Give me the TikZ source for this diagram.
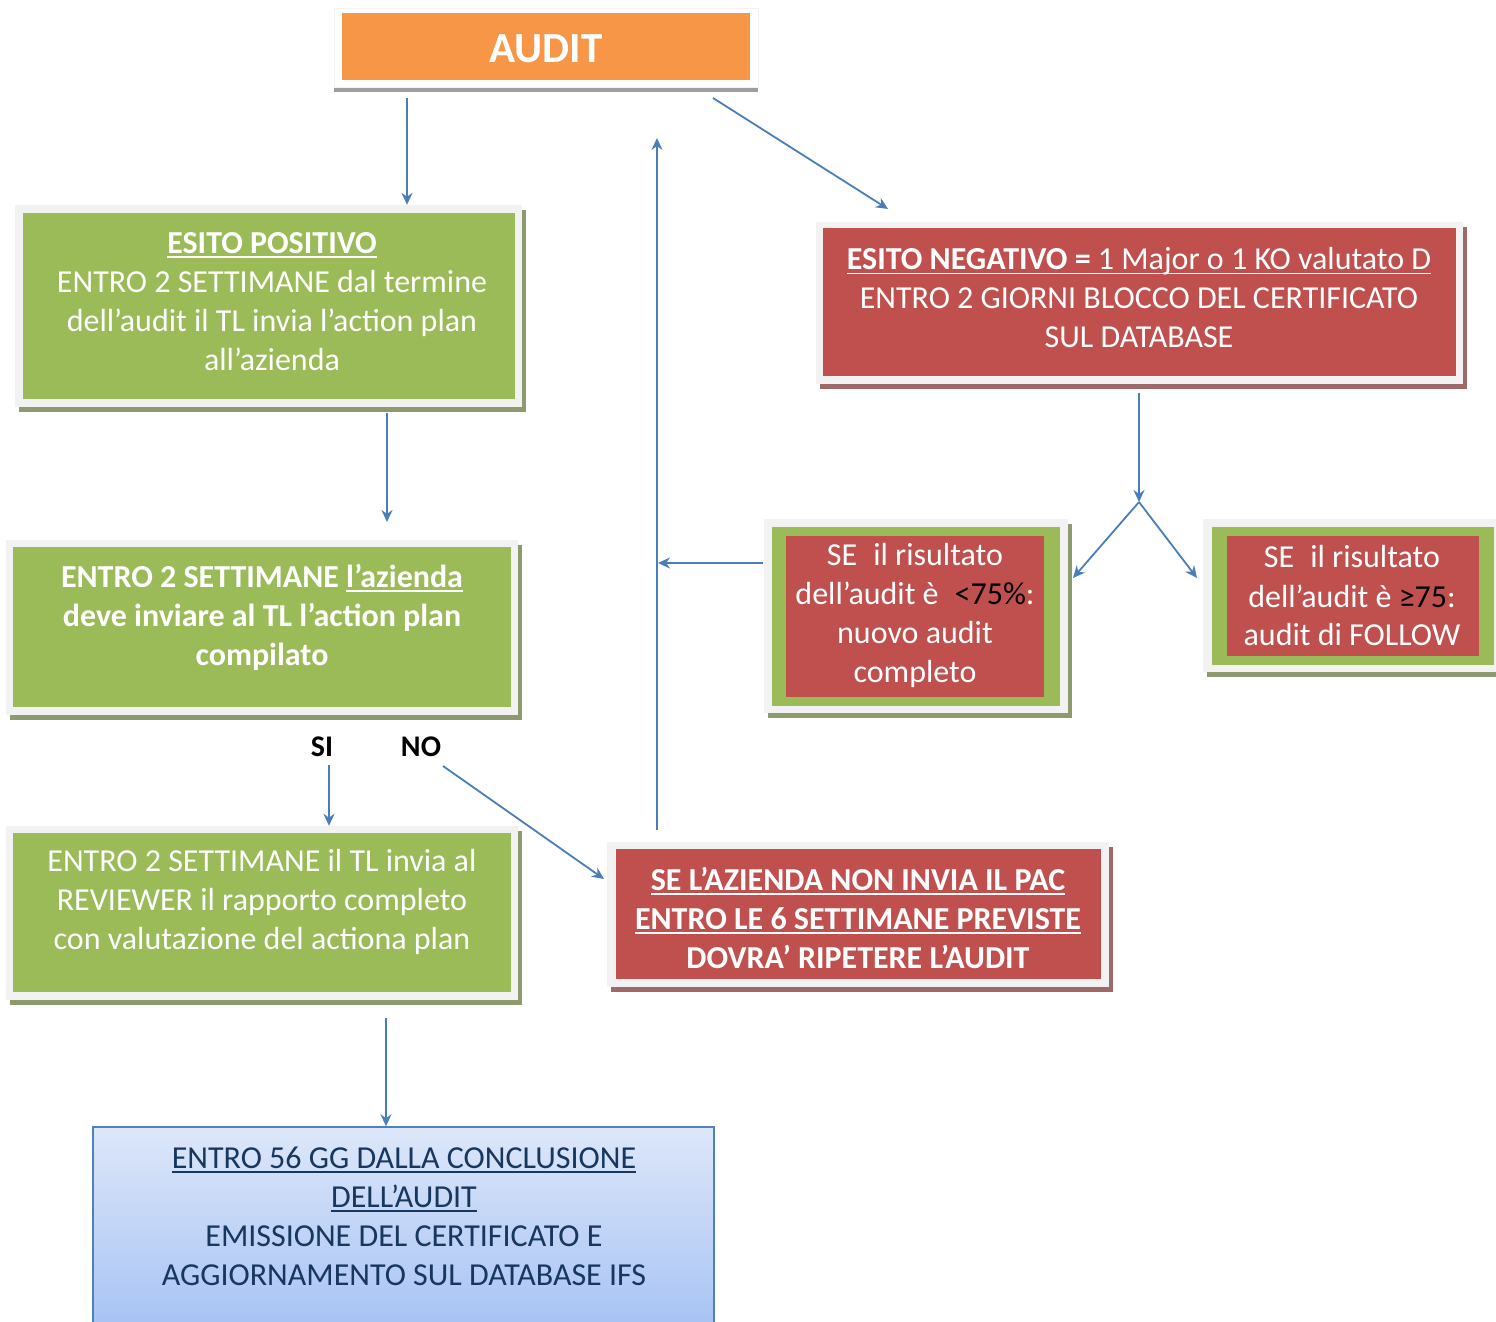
\documentclass[tikz,border=0pt]{standalone}
\usepackage{fontspec}
\setmainfont{Carlito}
\usetikzlibrary{arrows.meta,shadows}
\definecolor{orangeF}{HTML}{F79646}
\definecolor{greenF}{HTML}{9BBB59}
\definecolor{redF}{HTML}{C0504D}
\definecolor{arrowC}{HTML}{4A7EBB}
\definecolor{frameC}{HTML}{F2F2F2}
\definecolor{navyT}{HTML}{17375E}
\definecolor{blueB}{HTML}{4F81BD}
\definecolor{blueTop}{HTML}{DDE7F9}
\definecolor{blueBot}{HTML}{A3C0F4}
\newsavebox\myulbox
\newcommand\myul[1]{\sbox\myulbox{#1}\rlap{\rule[-4.5pt]{\wd\myulbox}{1.9pt}}\usebox\myulbox}
\begin{document}
\begin{tikzpicture}[x=1pt,y=-1pt,
  frame/.style={fill=frameC, inner sep=0, draw=none,
    drop shadow={shadow xshift=4pt, shadow yshift=-5pt, fill=#1, opacity=1}},
  frame/.default=gray!70,
  colbox/.style={fill=#1, inner sep=0, draw=none},
  txt/.style={font=\fontsize{32}{39}\selectfont, align=center, text=white, inner sep=0},
  arr/.style={draw=arrowC, line width=1.8pt, -{Stealth[length=12pt,width=11pt]}},
  lab/.style={font=\fontsize{30}{36}\selectfont\bfseries, text=black, inner sep=0}]
\useasboundingbox (0,0) rectangle (1496,1322);

% AUDIT
\node[fill=white, draw=frameC, inner sep=0, minimum width=424, minimum height=79,
  drop shadow={shadow xshift=0pt, shadow yshift=-5pt, fill=gray!75, opacity=1}] (auditF) at (546,47.5) {};
\node[colbox=orangeF, minimum width=408, minimum height=67] (audit) at (546,46.5) {};
\node[txt, font=\fontsize{43}{48}\selectfont\bfseries] (auditT) at (546,49) {AUDIT};

% ESITO POSITIVO
\node[frame=greenF!45!gray, minimum width=507, minimum height=202] (posF) at (268.5,306) {};
\node[colbox=greenF, minimum width=492, minimum height=186] (pos) at (269,306) {};
\node[txt] (posT) at (272,301.5) {\textbf{\myul{ESITO POSITIVO}}\\ENTRO 2 SETTIMANE dal termine\\dell’audit il TL invia l’action plan\\all’azienda};

% box 2
\node[frame=greenF!45!gray, minimum width=512, minimum height=175] (b2F) at (262,627.5) {};
\node[colbox=greenF, minimum width=498, minimum height=160] (b2) at (262,627) {};
\node[txt, font=\fontsize{32}{39}\selectfont\bfseries] (b2T) at (262,617) {ENTRO 2 SETTIMANE \myul{l’azienda}\\deve inviare al TL l’action plan\\compilato};

% SI / NO
\node[lab] (si) at (322,747) {SI};
\node[lab] (no) at (421,747) {NO};

% box 3
\node[frame=greenF!45!gray, minimum width=512, minimum height=174] (b3F) at (262,913) {};
\node[colbox=greenF, minimum width=498, minimum height=159] (b3) at (262,912.5) {};
\node[txt] (b3T) at (262,902) {ENTRO 2 SETTIMANE il TL invia al\\REVIEWER il rapporto completo\\con valutazione del actiona plan};

% blue box
\node[draw=blueB, line width=1.5pt, top color=blueTop, bottom color=blueBot, inner sep=0,
  minimum width=621, minimum height=215] (blue) at (403.5,1234.5) {};
\node[txt, text=navyT] (blueT) at (404,1216.5) {\myul{ENTRO 56 GG DALLA CONCLUSIONE}\\\myul{DELL’AUDIT}\\EMISSIONE DEL CERTIFICATO E\\AGGIORNAMENTO SUL DATABASE IFS};

% ESITO NEGATIVO
\node[frame=redF!45!gray, minimum width=647, minimum height=162] (negF) at (1139.5,303) {};
\node[colbox=redF, minimum width=633, minimum height=148] (neg) at (1139.5,302) {};
\node[txt] (negT) at (1139,298) {\myul{\textbf{ESITO NEGATIVO =} 1 Major o 1 KO valutato D}\\ENTRO 2 GIORNI BLOCCO DEL CERTIFICATO\\SUL DATABASE};

% left small box
\node[frame=greenF!45!gray, minimum width=304, minimum height=194] (lsF) at (915.5,616) {};
\node[colbox=greenF, minimum width=288, minimum height=179] (lsG) at (915.5,616.5) {};
\node[colbox=redF, minimum width=258, minimum height=161] (ls) at (915,616.5) {};
\node[txt] (lsT) at (915,615.5) {SE\enspace il risultato\\dell’audit è\enspace\textcolor{black}{<75\%}:\\nuovo audit\\completo};

% right small box
\node[frame=greenF!45!gray, minimum width=294, minimum height=153] (rsF) at (1350,595.5) {};
\node[colbox=greenF, minimum width=282, minimum height=138] (rsG) at (1353,596) {};
\node[colbox=redF, minimum width=252, minimum height=120] (rs) at (1353,596) {};
\node[txt] (rsT) at (1352,596) {SE\enspace il risultato\\dell’audit è \textcolor{black}{≥75}:\\audit di FOLLOW};

% PAC box
\node[frame=redF!45!gray, minimum width=502, minimum height=145] (pacF) at (858,914.5) {};
\node[colbox=redF, minimum width=485, minimum height=130] (pac) at (858.5,914) {};
\node[txt, font=\fontsize{32}{39}\selectfont\bfseries] (pacT) at (858,918) {\myul{SE L’AZIENDA NON INVIA IL PAC}\\\myul{ENTRO LE 6 SETTIMANE PREVISTE}\\DOVRA’ RIPETERE L’AUDIT};

% connector coordinates
\coordinate (c1) at (407,98);
\coordinate (c2) at (713,98);
\coordinate (c2e) at (888,209);
\coordinate (c3) at (387,413);
\coordinate (c3e) at (387,522);
\coordinate (c4) at (329,765);
\coordinate (c5) at (443,766);
\coordinate (c5e) at (604,879);
\coordinate (c6) at (386,1018);
\coordinate (c7) at (657,830);
\coordinate (c7e) at (657,138);
\coordinate (c8e) at (658,563);
\coordinate (c9) at (1139,393);
\coordinate (split) at (1139,502);
\coordinate (c10a) at (1073,578);
\coordinate (c10b) at (1197,578);

\draw[arr] (c1) -- (c1 |- posF.north);
\draw[arr] (c2) -- (c2e);
\draw[arr] (c3) -- (c3e);
\draw[arr] (c4) -- (c4 |- b3F.north);
\draw[arr] (c5) -- (c5e);
\draw[arr] (c6) -- (c6 |- blue.north);
\draw[arr] (c7) -- (c7e);
\draw[arr] (lsF.west |- c8e) -- (c8e);
\draw[arr] (c9) -- (split);
\draw[arr] (split) -- (c10a);
\draw[arr] (split) -- (c10b);
\end{tikzpicture}
\end{document}
